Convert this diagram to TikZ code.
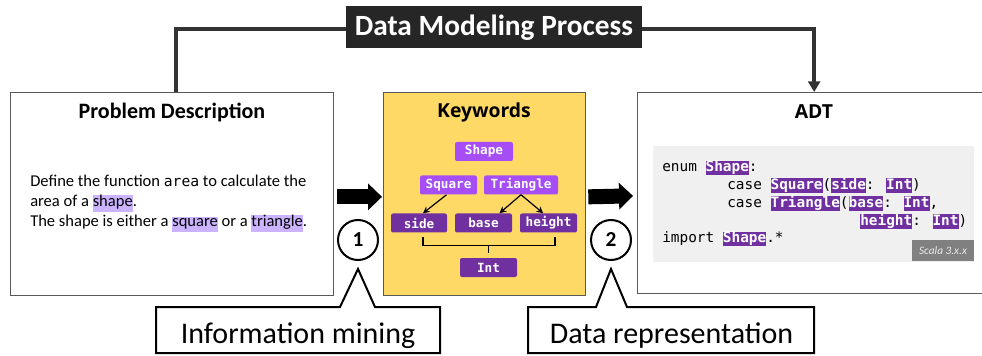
\documentclass[tikz,border=0pt]{standalone}
\usepackage{fontspec}
\setmainfont{Carlito}
\newfontfamily\osans{Open Sans}
\newfontfamily\codefont{DejaVu Sans Mono}
\usetikzlibrary{arrows.meta,calc}
\definecolor{lpurple}{HTML}{A64DF5}
\definecolor{dpurple}{HTML}{7030A0}
\definecolor{lav}{HTML}{CCB3FF}
\definecolor{kwyellow}{HTML}{FFD966}
\definecolor{codebg}{HTML}{F0F0F0}
\definecolor{tagbg}{HTML}{808080}
\definecolor{linegray}{HTML}{333333}
\definecolor{boxborder}{HTML}{595959}
\newcommand\hlc[1]{{\setlength{\fboxsep}{0pt}\colorbox{dpurple}{\rule[-2.5pt]{0pt}{11pt}\textcolor{white}{\bfseries #1}}}}
\newcommand\hlt[1]{{\setlength{\fboxsep}{0pt}\colorbox{lav}{\rule[-3.75pt]{0pt}{11.25pt}#1}}}
\begin{document}
\begin{tikzpicture}[x=0.75pt,y=-0.75pt,
  panel/.style={draw=boxborder,line width=1pt,anchor=north west,inner sep=0pt},
  conn/.style={draw=linegray,line width=3pt},
  kwlight/.style={fill=lpurple,rounded corners=1.5pt,text=white,inner sep=0pt,minimum height=14.25pt,font=\codefont\bfseries\fontsize{9.5}{11}\selectfont},
  kwdark/.style={kwlight,fill=dpurple},
  karrow/.style={draw=black,line width=0.9pt,-{Stealth[length=5pt,width=5pt]}},
  brace/.style={draw=black,line width=1.1pt},
  blockarrow/.style={draw=black,line width=11.25pt,-{Triangle[length=10.5pt,width=19.5pt]}},
  numcircle/.style={circle,draw=black,line width=1.5pt,minimum size=30pt,inner sep=0pt,font=\bfseries\fontsize{16}{18}\selectfont},
  callout/.style={draw=black,line width=1.5pt,fill=white,line join=miter},
  calltext/.style={anchor=base,font=\fontsize{22.5}{26}\selectfont},
  codeline/.style={anchor=base west,inner sep=0pt,font=\codefont\fontsize{10.8}{13}\selectfont}
  ]
\useasboundingbox (0,0) rectangle (982,356);
\fill[white] (0,0) rectangle (982,356);

% panels
\node[panel,fill=white,minimum width=242.25pt,minimum height=152.25pt] (pd) at (10,92) {};
\node[panel,fill=kwyellow,minimum width=151.5pt,minimum height=152.25pt] (kw) at (383,92) {};
\node[panel,fill=white,minimum width=264.75pt,minimum height=150.75pt] (adt) at (637,92) {};

% titles
\node[font=\bfseries\fontsize{16.5}{19}\selectfont] (pdt) at (172,112) {Problem Description};
\node[font=\osans\bfseries\fontsize{14.5}{17}\selectfont] (kwt) at (484,112) {Keywords};
\node[font=\osans\bfseries\fontsize{14.5}{17}\selectfont] (adtt) at (814,112) {ADT};

% top process label and connectors
\node[fill=black!85,text=white,minimum width=222pt,minimum height=31.5pt,inner sep=0pt,font=\bfseries\fontsize{22}{26}\selectfont] (title) at (494,27.5) {Data Modeling Process};
\draw[conn] ([yshift=-1.5pt]title.west) -| ([xshift=2.6pt]pd.north);
\draw[conn,-{Triangle[length=8pt,width=9pt]}] ([yshift=-1.5pt]title.east) -| (adt.north);

% problem description text
\node[anchor=north west,inner sep=0pt,align=left,font=\fontsize{12.4}{15}\selectfont] (pdtext) at (30,175)
  {Define the function {\codefont\fontsize{11}{12}\selectfont area} to calculate the\\
   area of a \hlt{shape}.\\
   The shape is either a \hlt{square} or a \hlt{triangle}.};

% keywords graph
\node[kwlight,minimum width=43.5pt] (shape) at (484,151.5) {Shape};
\node[kwlight,minimum width=42.75pt] (sq) at (448.5,185) {Square};
\node[kwlight,minimum width=55.5pt] (tri) at (521,185) {Triangle};
\node[kwdark,minimum width=42pt] (side) at (419,223) {side};
\node[kwdark,minimum width=42.75pt] (base) at (483.5,223) {base};
\node[kwdark,minimum width=42.75pt] (height) at (548.5,223) {height};
\node[kwdark,minimum width=42.75pt] (int) at (488.5,267.5) {Int};
\draw[karrow] ([xshift=-1.5pt]sq.south) -- ([xshift=3pt]side.north);
\draw[karrow] (tri.south) -- ([xshift=12pt]base.north);
\draw[karrow] (tri.south) -- ([xshift=-4pt]height.north);
\draw[brace] ([xshift=3pt,yshift=-3.4pt]side.south) -- ++(0,8) -| ([xshift=4.9pt,yshift=-3.4pt]height.south);
\draw[brace] ([yshift=3.75pt]int.north) -- ++(0,-8);

% code block
\node[anchor=north west,fill=codebg,minimum width=240.75pt,minimum height=87pt,inner sep=0pt] (code) at (653,146) {};
\node[codeline] (l1) at (662,172) {enum \hlc{Shape}:};
\node[codeline] (l2) at (727,189.75) {case \hlc{Square}(\hlc{side}: \hlc{Int})};
\node[codeline] (l3) at (727,207.5) {case \hlc{Triangle}(\hlc{base}: \hlc{Int},};
\node[codeline] (l4) at (860,225.25) {\hlc{height}: \hlc{Int})};
\node[codeline] (l5) at (662,243) {import \hlc{Shape}.*};
\node[fill=tagbg,text=white!92!black,minimum width=46.5pt,minimum height=15.75pt,inner sep=0pt,font=\itshape\fontsize{8.5}{10}\selectfont] (tag) at (943,250.5) {Scala 3.x.x};

% block arrows
\draw[blockarrow] ([xshift=2.25pt,yshift=-2pt]pd.east) -- ([xshift=-0.75pt,yshift=-2pt]kw.west);
\draw[blockarrow] ([xshift=1.5pt,yshift=-2pt]kw.east) -- ([xshift=-3pt,yshift=-2pt]adt.west);

% numbered circles
\node[numcircle] (c1) at (358,240) {1};
\node[numcircle] (c2) at (611,240) {2};

% callouts
\draw[callout] (156,307) -- (340,307) -- ($(c1.south)+(0,8)$) -- (375,307) -- (440,307) -- (440,353) -- (156,353) -- cycle;
\node[calltext] (im) at (298,343) {Information mining};
\draw[callout] (528,307) -- (596,307) -- ($(c2.south)+(0,8)$) -- (627,307) -- (814,307) -- (814,353) -- (528,353) -- cycle;
\node[calltext] (dr) at (671.5,343) {Data representation};
\end{tikzpicture}
\end{document}
